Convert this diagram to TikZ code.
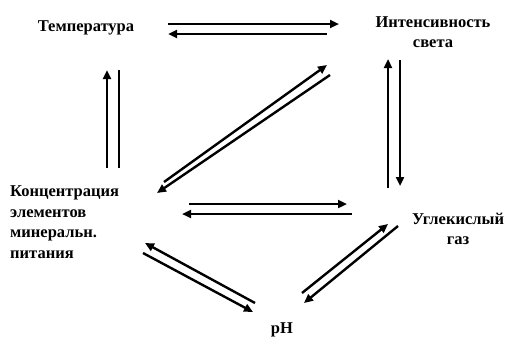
\documentclass[tikz,border=0pt]{standalone}
\usepackage{fontspec}
\setmainfont{Liberation Serif}
\usetikzlibrary{arrows.meta}
\begin{document}
\begin{tikzpicture}[x=1pt,y=-1pt,
  lbl/.style={font=\bfseries\fontsize{16.5}{20.5}\selectfont, inner sep=0pt},
  conn/.style={line width=2.4pt},
  arr/.style={conn, -{Triangle[length=9pt,width=8pt]}}]
\useasboundingbox (0,0) rectangle (506,343);
% labels
\node[lbl] (temp) at (86,28) {Температура};
\node[lbl, align=center] (light) at (433,32) {Интенсивность\\света};
\node[lbl, align=left, anchor=west] (conc) at (10,222) {Концентрация\\элементов\\минеральн.\\питания};
\node[lbl, align=center] (co2) at (458,229) {Углекислый\\газ};
\node[lbl] (ph) at (282,330) {pH};
% endpoints
\coordinate (t1a) at (168,24); \coordinate (t1b) at (339,24);
\coordinate (t2a) at (327,34); \coordinate (t2b) at (168,34);
\coordinate (l1a) at (107,168); \coordinate (l1b) at (107,70);
\coordinate (l2a) at (119,70); \coordinate (l2b) at (119,168);
\coordinate (r1a) at (388,188); \coordinate (r1b) at (388,59);
\coordinate (r2a) at (400,60); \coordinate (r2b) at (400,186);
\coordinate (d1a) at (164,182); \coordinate (d1b) at (327,65);
\coordinate (d2a) at (330,75); \coordinate (d2b) at (157,193);
\coordinate (m1a) at (189,204); \coordinate (m1b) at (347,204);
\coordinate (m2a) at (352,214); \coordinate (m2b) at (182,214);
\coordinate (p1a) at (255,303); \coordinate (p1b) at (145,243);
\coordinate (p2a) at (143,253); \coordinate (p2b) at (253,312);
\coordinate (q1a) at (302,293); \coordinate (q1b) at (388,224);
\coordinate (q2a) at (398,226); \coordinate (q2b) at (304,303);
% connectors
\draw[arr] (t1a) -- (t1b);
\draw[arr] (t2a) -- (t2b);
\draw[arr] (l1a) -- (l1b);
\draw[conn] (l2a) -- (l2b);
\draw[arr] (r1a) -- (r1b);
\draw[arr] (r2a) -- (r2b);
\draw[arr] (d1a) -- (d1b);
\draw[arr] (d2a) -- (d2b);
\draw[arr] (m1a) -- (m1b);
\draw[arr] (m2a) -- (m2b);
\draw[arr] (p1a) -- (p1b);
\draw[arr] (p2a) -- (p2b);
\draw[arr] (q1a) -- (q1b);
\draw[arr] (q2a) -- (q2b);
\end{tikzpicture}
\end{document}
